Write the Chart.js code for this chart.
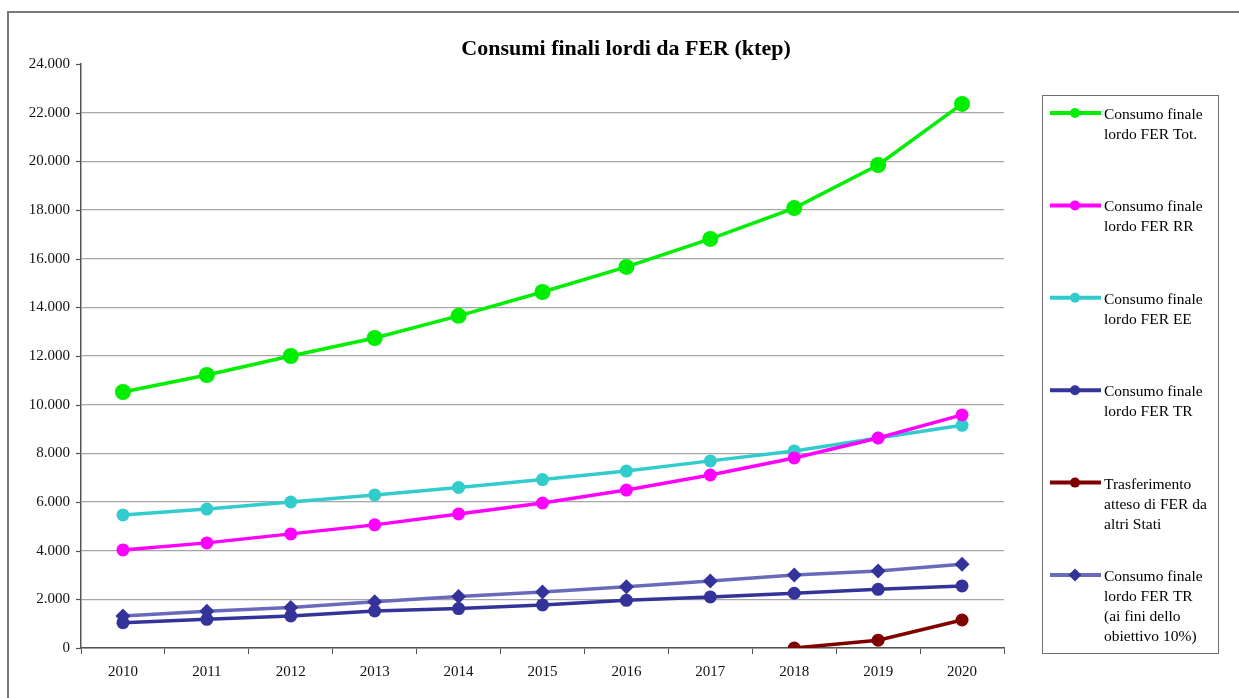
<!DOCTYPE html>
<html>
<head>
<meta charset="utf-8">
<script src="https://cdn.jsdelivr.net/npm/chart.js@4/dist/chart.umd.min.js"></script>
<style>
  html, body { margin: 0; padding: 0; background: #ffffff; }
  #wrap { width: 1239px; height: 698px; position: relative; }
</style>
</head>
<body>
<div id="wrap"><canvas id="c" width="1239" height="698"></canvas></div>
<script>
// Years on the horizontal axis
const years = ['2010', '2011', '2012', '2013', '2014', '2015', '2016', '2017', '2018', '2019', '2020'];

// Series values (ktep)
const consumoTot = [10520, 11220, 12000, 12740, 13650, 14630, 15660, 16810, 18080, 19850, 22360];
const consumoRR  = [4030, 4320, 4690, 5060, 5510, 5960, 6490, 7110, 7810, 8630, 9580];
const consumoEE  = [5470, 5710, 6000, 6290, 6600, 6920, 7270, 7690, 8100, 8630, 9150];
const consumoTR  = [1040, 1180, 1320, 1520, 1620, 1770, 1960, 2100, 2250, 2410, 2550];
const trasferimento = [null, null, null, null, null, null, null, null, 0, 320, 1150];
const consumoTR10 = [1320, 1510, 1660, 1900, 2120, 2300, 2520, 2750, 3000, 3160, 3440];

// Legend texts, one array of lines per series
const legendTot   = ['Consumo finale', 'lordo FER Tot.'];
const legendRR    = ['Consumo finale', 'lordo FER RR'];
const legendEE    = ['Consumo finale', 'lordo FER EE'];
const legendTR    = ['Consumo finale', 'lordo FER TR'];
const legendTrasf = ['Trasferimento', 'atteso di FER da', 'altri Stati'];
const legendTR10  = ['Consumo finale', 'lordo FER TR', '(ai fini dello', 'obiettivo 10%)'];

// Y axis tick values
const yTicks = [0, 2000, 4000, 6000, 8000, 10000, 12000, 14000, 16000, 18000, 20000, 22000, 24000];

const chartTitle = 'Consumi finali lordi da FER (ktep)';
const SERIF = '"Liberation Serif", "Times New Roman", serif';

function fmtIt(v) {
  return String(v).replace(/\B(?=(\d{3})+(?!\d))/g, '.');
}

// Frame, title and side legend
const decorations = {
  id: 'decorations',
  afterDraw(chart) {
    const ctx = chart.ctx;
    ctx.save();
    // outer frame
    ctx.strokeStyle = '#7a7a7a';
    ctx.lineWidth = 2;
    ctx.beginPath();
    ctx.moveTo(8, 700);
    ctx.lineTo(8, 12);
    ctx.lineTo(1240, 12);
    ctx.stroke();

    // title
    ctx.fillStyle = '#000000';
    ctx.font = 'bold 22px ' + SERIF;
    ctx.textAlign = 'center';
    ctx.textBaseline = 'middle';
    ctx.fillText(chart.options.plugins.customTitle.text, 626, 49);

    // legend box
    const bx = 1042.5, by = 95.5, bw = 176, bh = 558;
    ctx.strokeStyle = '#6e6e6e';
    ctx.lineWidth = 1;
    ctx.strokeRect(bx, by, bw, bh);

    ctx.font = '15.5px ' + SERIF;
    ctx.textAlign = 'left';
    chart.data.datasets.forEach((ds, i) => {
      const y = 113 + i * 92.4;
      ctx.strokeStyle = ds.borderColor;
      ctx.lineWidth = 4;
      ctx.beginPath();
      ctx.moveTo(1050, y);
      ctx.lineTo(1101, y);
      ctx.stroke();
      ctx.fillStyle = ds.pointBackgroundColor;
      ctx.beginPath();
      if (ds.pointStyle === 'rectRot') {
        const r = 6.5;
        ctx.moveTo(1075, y - r);
        ctx.lineTo(1075 + r, y);
        ctx.lineTo(1075, y + r);
        ctx.lineTo(1075 - r, y);
        ctx.closePath();
      } else {
        ctx.arc(1075, y, 5, 0, Math.PI * 2);
      }
      ctx.fill();
      ctx.fillStyle = '#000000';
      ds.legendLines.forEach((t, k) => {
        ctx.fillText(t, 1104, y + 2 + k * 20);
      });
    });
    ctx.restore();
  }
};

function series(label, lines, data, color, pointColor, style, radius) {
  return {
    label: label,
    legendLines: lines,
    data: data,
    borderColor: color,
    backgroundColor: pointColor,
    pointBackgroundColor: pointColor,
    pointBorderColor: pointColor,
    pointStyle: style,
    pointRadius: radius,
    pointBorderWidth: 0,
    borderWidth: 3.5,
    tension: 0,
    spanGaps: false,
    fill: false
  };
}

new Chart(document.getElementById('c'), {
  type: 'line',
  data: {
    labels: years,
    datasets: [
      series(legendTot.join(' '), legendTot, consumoTot, '#00ee00', '#00ee00', 'circle', 8),
      series(legendRR.join(' '), legendRR, consumoRR, '#ff00ff', '#ff00ff', 'circle', 6.5),
      series(legendEE.join(' '), legendEE, consumoEE, '#33cccc', '#33cccc', 'circle', 6.5),
      series(legendTR.join(' '), legendTR, consumoTR, '#333399', '#333399', 'circle', 6.5),
      series(legendTrasf.join(' '), legendTrasf, trasferimento, '#800000', '#800000', 'circle', 6.5),
      series(legendTR10.join(' '), legendTR10, consumoTR10, '#6a6abd', '#333399', 'rectRot', 7.5)
    ]
  },
  options: {
    responsive: false,
    animation: false,
    events: [],
    layout: { padding: { left: 0, right: 235, top: 64, bottom: 0 } },
    plugins: {
      legend: { display: false },
      title: { display: false },
      tooltip: { enabled: false },
      customTitle: { text: chartTitle }
    },
    scales: {
      x: {
        offset: true,
        grid: {
          offset: true,
          drawOnChartArea: false,
          drawTicks: true,
          tickLength: 6,
          color: '#555555'
        },
        border: { color: '#555555', width: 1.5 },
        ticks: {
          color: '#111111',
          font: { family: SERIF, size: 15 },
          padding: 9,
          maxRotation: 0
        },
        afterFit(scale) { scale.height = 50; }
      },
      y: {
        min: 0,
        max: 24000,
        afterBuildTicks(scale) { scale.ticks = yTicks.map(v => ({ value: v })); },
        grid: {
          color(ctx) { return ctx.tick && ctx.tick.value === 24000 ? 'rgba(0,0,0,0)' : '#a6a6a6'; },
          lineWidth: 1.2,
          drawTicks: false
        },
        border: { color: '#555555', width: 1.5 },
        ticks: {
          color: '#111111',
          font: { family: SERIF, size: 15 },
          padding: 11,
          callback(v) { return fmtIt(v); }
        },
        afterFit(scale) { scale.width = 81; }
      }
    }
  },
  plugins: [decorations,
    {
      id: 'yTickMarks',
      afterDraw(chart) {
        const ctx = chart.ctx, s = chart.scales.y, x0 = chart.chartArea.left;
        ctx.save();
        ctx.strokeStyle = '#555555';
        ctx.lineWidth = 1.2;
        s.ticks.forEach(t => {
          const y = Math.round(s.getPixelForValue(t.value)) + 0.5;
          ctx.beginPath();
          ctx.moveTo(x0 - 5, y);
          ctx.lineTo(x0, y);
          ctx.stroke();
        });
        ctx.restore();
      }
    }
  ]
});
</script>
</body>
</html>
